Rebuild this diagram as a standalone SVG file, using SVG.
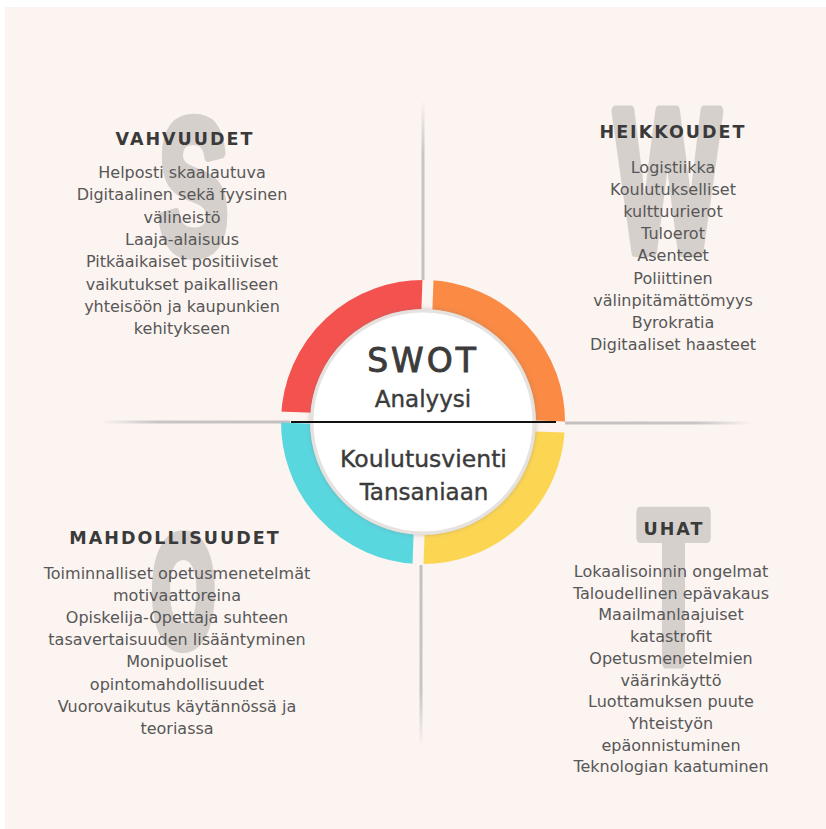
<svg xmlns="http://www.w3.org/2000/svg" width="826" height="829" viewBox="0 0 826 829">
<style>
.big{font-family:"Liberation Sans",Arial,sans-serif;font-weight:bold;fill:#d6d0cd;stroke:#d6d0cd;stroke-width:12;stroke-linejoin:round;text-anchor:middle}
.hd{font-family:"DejaVu Sans",sans-serif;font-weight:bold;font-size:17.5px;letter-spacing:2px;fill:#3a3a3a;text-anchor:middle}
.bd{font-family:"DejaVu Sans",sans-serif;font-size:16px;fill:#575757;text-anchor:middle}
.ct{font-family:"DejaVu Sans",sans-serif;fill:#3b3b3b;stroke:#3b3b3b;stroke-width:0.4;text-anchor:middle}
</style>
<defs>
<linearGradient id="gTop" x1="0" y1="0" x2="0" y2="1"><stop offset="0" stop-color="#c9c5c6" stop-opacity="0"/><stop offset="0.3" stop-color="#c9c5c6"/><stop offset="1" stop-color="#c4c0c1"/></linearGradient>
<linearGradient id="gBot" x1="0" y1="0" x2="0" y2="1"><stop offset="0" stop-color="#c4c0c1"/><stop offset="0.7" stop-color="#c9c5c6"/><stop offset="1" stop-color="#c9c5c6" stop-opacity="0"/></linearGradient>
<linearGradient id="gLeft" x1="0" y1="0" x2="1" y2="0"><stop offset="0" stop-color="#c9c5c6" stop-opacity="0"/><stop offset="0.3" stop-color="#c9c5c6"/><stop offset="1" stop-color="#c4c0c1"/></linearGradient>
<linearGradient id="gRight" x1="0" y1="0" x2="1" y2="0"><stop offset="0" stop-color="#c4c0c1"/><stop offset="0.7" stop-color="#c9c5c6"/><stop offset="1" stop-color="#c9c5c6" stop-opacity="0"/></linearGradient>
<clipPath id="cTL"><rect x="270" y="270" width="147.5" height="146.5"/></clipPath>
<clipPath id="cTR"><rect x="428.5" y="270" width="150" height="146.5"/></clipPath>
<clipPath id="cBL"><rect x="270" y="427.5" width="147.5" height="150"/></clipPath>
<clipPath id="cBR"><rect x="428.5" y="427.5" width="150" height="150"/></clipPath>
<filter id="sh" x="-20%" y="-20%" width="140%" height="140%"><feDropShadow dx="0" dy="0" stdDeviation="2.5" flood-color="#7a7472" flood-opacity="0.45"/></filter>
</defs>
<rect x="0" y="0" width="826" height="829" fill="#ffffff"/>
<rect x="5" y="7" width="821" height="822" fill="#fcf4f1"/>

<g id="letters">
<text class="big" font-size="189" transform="translate(193.5,252) scale(0.55,1)">S</text>
<text class="big" font-size="203" transform="translate(667.5,251) scale(0.55,1)">W</text>
<text class="big" font-size="155" transform="translate(183.5,645) scale(0.525,1)">O</text>
<text class="big" font-size="218" transform="translate(673.5,662) scale(0.53,1)">T</text>
</g>

<g id="connectors">
<rect x="421.5" y="100" width="3" height="180" fill="url(#gTop)"/>
<rect x="419.5" y="565" width="3" height="182" fill="url(#gBot)"/>
<rect x="100" y="420.5" width="190" height="3" fill="url(#gLeft)"/>
<rect x="565" y="421.5" width="188" height="3" fill="url(#gRight)"/>
</g>

<g id="center">
<g transform="rotate(2,423,422)" fill="none" stroke-width="29">
<circle cx="423" cy="422" r="127.5" stroke="#f4524f" clip-path="url(#cTL)"/>
<circle cx="423" cy="422" r="127.5" stroke="#fa8a44" clip-path="url(#cTR)"/>
<circle cx="423" cy="422" r="127.5" stroke="#59d7df" clip-path="url(#cBL)"/>
<circle cx="423" cy="422" r="127.5" stroke="#fcd653" clip-path="url(#cBR)"/>
</g>
<circle cx="423" cy="422" r="111" fill="#ffffff" stroke="#e6e2df" stroke-width="3" filter="url(#sh)"/>
<line x1="291" y1="422" x2="556" y2="422" stroke="#111111" stroke-width="2.2"/>
<text class="ct" x="423" y="372" font-size="33" letter-spacing="3" style="stroke-width:0.9">SWOT</text>
<text class="ct" x="423" y="407" font-size="23">Analyysi</text>
<text class="ct" x="423.5" y="467" font-size="23.5">Koulutusvienti</text>
<text class="ct" x="424" y="500" font-size="23">Tansaniaan</text>
</g>

<g id="vahvuudet">
<text class="hd" x="185" y="145">VAHVUUDET</text>
<text class="bd" x="182" y="178">Helposti skaalautuva</text>
<text class="bd" x="182" y="200.3">Digitaalinen sekä fyysinen</text>
<text class="bd" x="182" y="222.6">välineistö</text>
<text class="bd" x="182" y="244.9">Laaja-alaisuus</text>
<text class="bd" x="182" y="267.2">Pitkäaikaiset positiiviset</text>
<text class="bd" x="182" y="289.5">vaikutukset paikalliseen</text>
<text class="bd" x="182" y="311.8">yhteisöön ja kaupunkien</text>
<text class="bd" x="182" y="334.1">kehitykseen</text>
</g>

<g id="heikkoudet">
<text class="hd" x="673" y="138">HEIKKOUDET</text>
<text class="bd" x="673" y="173">Logistiikka</text>
<text class="bd" x="673" y="195.1">Koulutukselliset</text>
<text class="bd" x="673" y="217.2">kulttuurierot</text>
<text class="bd" x="673" y="239.3">Tuloerot</text>
<text class="bd" x="673" y="261.4">Asenteet</text>
<text class="bd" x="673" y="283.5">Poliittinen</text>
<text class="bd" x="673" y="305.6">välinpitämättömyys</text>
<text class="bd" x="673" y="327.7">Byrokratia</text>
<text class="bd" x="673" y="349.8">Digitaaliset haasteet</text>
</g>

<g id="mahdollisuudet">
<text class="hd" x="175" y="544">MAHDOLLISUUDET</text>
<text class="bd" x="177" y="579">Toiminnalliset opetusmenetelmät</text>
<text class="bd" x="177" y="601.1">motivaattoreina</text>
<text class="bd" x="177" y="623.2">Opiskelija-Opettaja suhteen</text>
<text class="bd" x="177" y="645.3">tasavertaisuuden lisääntyminen</text>
<text class="bd" x="177" y="667.4">Monipuoliset</text>
<text class="bd" x="177" y="689.5">opintomahdollisuudet</text>
<text class="bd" x="177" y="711.6">Vuorovaikutus käytännössä ja</text>
<text class="bd" x="177" y="733.7">teoriassa</text>
</g>

<g id="uhat">
<text class="hd" x="674" y="535">UHAT</text>
<text class="bd" x="671" y="577">Lokaalisoinnin ongelmat</text>
<text class="bd" x="671" y="598.7">Taloudellinen epävakaus</text>
<text class="bd" x="671" y="620.4">Maailmanlaajuiset</text>
<text class="bd" x="671" y="642.1">katastrofit</text>
<text class="bd" x="671" y="663.8">Opetusmenetelmien</text>
<text class="bd" x="671" y="685.5">väärinkäyttö</text>
<text class="bd" x="671" y="707.2">Luottamuksen puute</text>
<text class="bd" x="671" y="728.9">Yhteistyön</text>
<text class="bd" x="671" y="750.6">epäonnistuminen</text>
<text class="bd" x="671" y="772.3">Teknologian kaatuminen</text>
</g>
</svg>
